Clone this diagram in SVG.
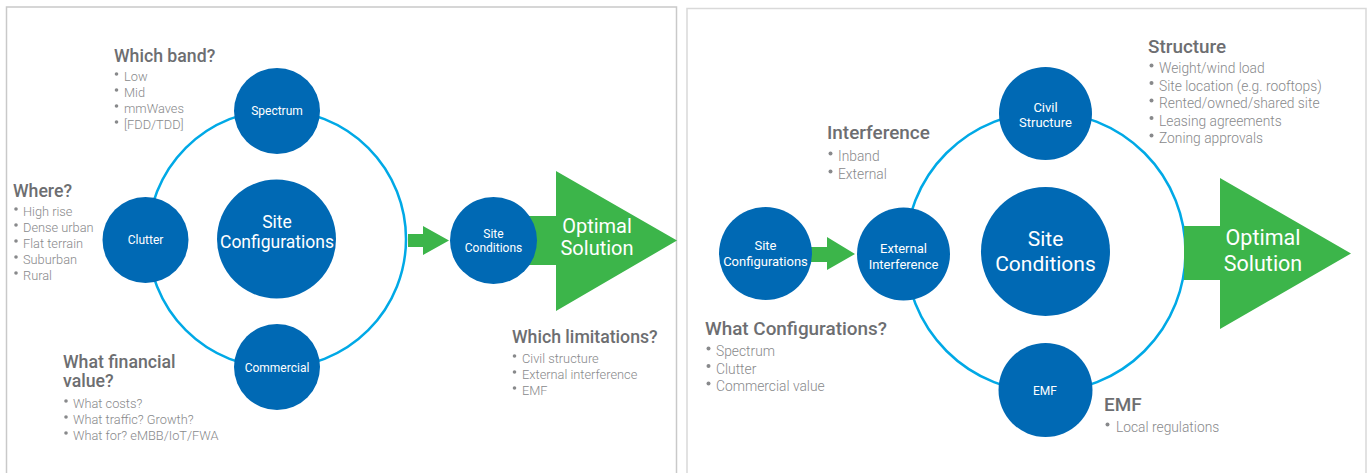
<svg xmlns="http://www.w3.org/2000/svg" width="1371" height="473" viewBox="0 0 1371 473">
  <style>
    .panel { fill: #ffffff; stroke: #c9c9c9; stroke-width: 1.5; }
    .panel2 { fill: #ffffff; stroke: #d9d9d9; stroke-width: 1.5; }
    .node { fill: #0069b4; }
    .ring { fill: none; stroke: #00a9e6; stroke-width: 2.5; }
    .arrow { fill: #3cb54a; }
    .lbl { font-family: Roboto, "Liberation Sans", sans-serif; fill: #ffffff; text-anchor: middle; }
    .head { font-family: Roboto, "Liberation Sans", sans-serif; font-weight: 500; fill: #6d6e71; }
    .hl { font-size: 17.7px; }
    .hr { font-size: 18.9px; }
    .item { font-family: Roboto, "Liberation Sans", sans-serif; font-weight: 300; fill: #88898b; }
    .dot { fill: #88898b; }
    .s12 { font-size: 12px; }
    .s13 { font-size: 13px; }
    .il { font-size: 12.8px; }
    .ir { font-size: 13.8px; }
  </style>

  <!-- panel frames -->
  <rect class="panel" x="6.5" y="7" width="670" height="480"/>
  <rect class="panel2" x="687" y="8.5" width="679" height="480"/>

  <!-- ring paths and arrows -->
  <g id="connectors">
    <circle class="ring" cx="277" cy="239" r="129"/>
    <path class="arrow" d="M408,234 H423 V226 L449,240.5 L423,255 V247 H408 Z"/>
    <path class="arrow" d="M493,216 H556 V171 L677,240.5 L556,311 V265 H493 Z"/>

    <circle class="ring" cx="1045.5" cy="252" r="140"/>
    <path class="arrow" d="M810,247 H827 V237 L855,254 L827,270 V262 H810 Z"/>
    <path class="arrow" d="M1184,226 H1220 V178 L1351,253.5 L1220,329 V280 H1184 Z"/>
  </g>

  <!-- left: configuration factors -->
  <g id="spectrum">
    <circle class="node" cx="277" cy="111" r="43"/>
    <text class="lbl s12" x="277" y="115">Spectrum</text>
  </g>
  <g id="clutter">
    <circle class="node" cx="145.5" cy="240" r="43"/>
    <text class="lbl s12" x="145.5" y="244">Clutter</text>
  </g>
  <g id="commercial">
    <circle class="node" cx="277" cy="367" r="43"/>
    <text class="lbl s12" x="277" y="371.5">Commercial</text>
  </g>
  <g id="site-configurations">
    <circle class="node" cx="276.5" cy="239" r="59.5"/>
    <text class="lbl" style="font-size:17.5px" x="277" y="228">Site</text>
    <text class="lbl" style="font-size:17.5px" x="277" y="248">Configurations</text>
  </g>
  <g id="site-conditions-small">
    <circle class="node" cx="493.5" cy="240.5" r="43.5"/>
    <text class="lbl s12" x="493.5" y="237.5">Site</text>
    <text class="lbl s12" x="493.5" y="252">Conditions</text>
  </g>
  <g id="optimal-solution-left">
    <text class="lbl" style="font-size:20px" x="597" y="233">Optimal</text>
    <text class="lbl" style="font-size:20px" x="597" y="255">Solution</text>
  </g>

  <!-- left annotations -->
  <g id="which-band">
    <text class="head hl" x="114" y="62">Which band?</text>
    <circle class="dot" cx="116.5" cy="74" r="1.8"/><text class="item il" x="124" y="81">Low</text>
    <circle class="dot" cx="116.5" cy="90" r="1.8"/><text class="item il" x="124" y="97">Mid</text>
    <circle class="dot" cx="116.5" cy="106" r="1.8"/><text class="item il" x="124" y="113">mmWaves</text>
    <circle class="dot" cx="116.5" cy="122" r="1.8"/><text class="item il" x="124" y="129">[FDD/TDD]</text>
  </g>
  <g id="where">
    <text class="head hl" x="13" y="197">Where?</text>
    <circle class="dot" cx="16" cy="209" r="1.8"/><text class="item il" x="23" y="216">High rise</text>
    <circle class="dot" cx="16" cy="225" r="1.8"/><text class="item il" x="23" y="232">Dense urban</text>
    <circle class="dot" cx="16" cy="241" r="1.8"/><text class="item il" x="23" y="248">Flat terrain</text>
    <circle class="dot" cx="16" cy="257" r="1.8"/><text class="item il" x="23" y="264">Suburban</text>
    <circle class="dot" cx="16" cy="273" r="1.8"/><text class="item il" x="23" y="280">Rural</text>
  </g>
  <g id="what-financial-value">
    <text class="head hl" x="63" y="368">What financial</text>
    <text class="head hl" x="63" y="387">value?</text>
    <circle class="dot" cx="66" cy="401" r="1.8"/><text class="item il" x="73" y="408">What costs?</text>
    <circle class="dot" cx="66" cy="417" r="1.8"/><text class="item il" x="73" y="424">What traffic? Growth?</text>
    <circle class="dot" cx="66" cy="433" r="1.8"/><text class="item il" x="73" y="440">What for? eMBB/IoT/FWA</text>
  </g>
  <g id="which-limitations">
    <text class="head hl" x="512" y="343">Which limitations?</text>
    <circle class="dot" cx="514.5" cy="356" r="1.8"/><text class="item il" x="522" y="363">Civil structure</text>
    <circle class="dot" cx="514.5" cy="372" r="1.8"/><text class="item il" x="522" y="379">External interference</text>
    <circle class="dot" cx="514.5" cy="388" r="1.8"/><text class="item il" x="522" y="395">EMF</text>
  </g>

  <!-- right: condition factors -->
  <g id="site-configurations-small">
    <circle class="node" cx="765.5" cy="253.5" r="46.5"/>
    <text class="lbl s13" x="765.5" y="250">Site</text>
    <text class="lbl s13" x="765.5" y="265.5">Configurations</text>
  </g>
  <g id="external-interference">
    <circle class="node" cx="903.5" cy="254" r="46.5"/>
    <text class="lbl s13" x="903.5" y="253">External</text>
    <text class="lbl s13" x="903.5" y="268.5">Interference</text>
  </g>
  <g id="civil-structure">
    <circle class="node" cx="1045.5" cy="113.5" r="46.5"/>
    <text class="lbl s13" x="1045.5" y="112">Civil</text>
    <text class="lbl s13" x="1045.5" y="127">Structure</text>
  </g>
  <g id="emf">
    <circle class="node" cx="1045.5" cy="390" r="47"/>
    <text class="lbl s12" x="1045" y="395">EMF</text>
  </g>
  <g id="site-conditions">
    <circle class="node" cx="1045.5" cy="251.5" r="64.5"/>
    <text class="lbl" style="font-size:21px" x="1045.5" y="245.5">Site</text>
    <text class="lbl" style="font-size:21px" x="1045.5" y="270.5">Conditions</text>
  </g>
  <g id="optimal-solution-right">
    <text class="lbl" style="font-size:21.5px" x="1263" y="245">Optimal</text>
    <text class="lbl" style="font-size:21.5px" x="1263" y="271">Solution</text>
  </g>

  <!-- right annotations -->
  <g id="interference">
    <text class="head hr" x="827" y="139">Interference</text>
    <circle class="dot" cx="830.5" cy="153.5" r="2"/><text class="item ir" x="838" y="161">Inband</text>
    <circle class="dot" cx="830.5" cy="171.5" r="2"/><text class="item ir" x="838" y="179">External</text>
  </g>
  <g id="what-configurations">
    <text class="head hr" x="705" y="335">What Configurations?</text>
    <circle class="dot" cx="708.5" cy="348.5" r="2"/><text class="item ir" x="716" y="356">Spectrum</text>
    <circle class="dot" cx="708.5" cy="366" r="2"/><text class="item ir" x="716" y="373.5">Clutter</text>
    <circle class="dot" cx="708.5" cy="383.5" r="2"/><text class="item ir" x="716" y="391">Commercial value</text>
  </g>
  <g id="structure">
    <text class="head hr" x="1148" y="53">Structure</text>
    <circle class="dot" cx="1151.5" cy="65.5" r="2"/><text class="item ir" x="1159" y="73">Weight/wind load</text>
    <circle class="dot" cx="1151.5" cy="83" r="2"/><text class="item ir" x="1159" y="90.5">Site location (e.g. rooftops)</text>
    <circle class="dot" cx="1151.5" cy="100.5" r="2"/><text class="item ir" x="1159" y="108">Rented/owned/shared site</text>
    <circle class="dot" cx="1151.5" cy="118" r="2"/><text class="item ir" x="1159" y="125.5">Leasing agreements</text>
    <circle class="dot" cx="1151.5" cy="135.5" r="2"/><text class="item ir" x="1159" y="143">Zoning approvals</text>
  </g>
  <g id="emf-notes">
    <text class="head hr" x="1104" y="411">EMF</text>
    <circle class="dot" cx="1107.5" cy="424.5" r="2"/><text class="item ir" x="1116" y="432">Local regulations</text>
  </g>
</svg>
